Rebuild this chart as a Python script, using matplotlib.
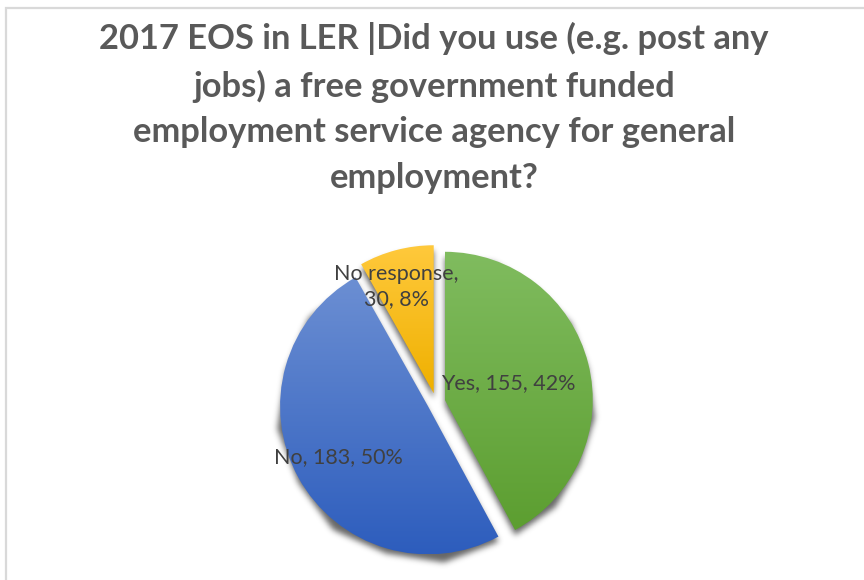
import numpy as np
import matplotlib
matplotlib.use("Agg")
import matplotlib.pyplot as plt
from matplotlib.colors import LinearSegmentedColormap
from matplotlib.patches import Rectangle

# Survey responses
categories = ["Yes", "No", "No response"]
counts = [155, 183, 30]
title_lines = [
    "2017 EOS in LER |Did you use (e.g. post any",
    "jobs) a free government funded",
    "employment service agency for general",
    "employment?",
]

# Gradient colour stops per slice (top -> bottom)
grad_colors = [("#80BC5F", "#5C9E30"), ("#6C8FD3", "#2D5DBD"), ("#FFC93C", "#EFB000")]

W, H = 864, 580
fig = plt.figure(figsize=(W / 100, H / 100), dpi=100)
fig.patch.set_facecolor("white")

# light frame around the chart area
fig.add_artist(Rectangle((6 / W, -0.05), 1.1, (H - 8) / H + 0.05, transform=fig.transFigure,
                         fill=False, edgecolor="#D9D9D9", linewidth=1.6))

cx, cy, R = 436, 402, 148  # pie centre / radius in pixels
lim = 1.2
ax_w = 2 * lim * R
ax = fig.add_axes([(cx - ax_w / 2) / W, (H - cy - ax_w / 2) / H, ax_w / W, ax_w / H])
ax.set_xlim(-lim, lim)
ax.set_ylim(-lim, lim)
ax.set_aspect("equal")
ax.axis("off")

total = sum(counts)
explode = [0.061] * len(counts)
wedges, _ = ax.pie(counts, explode=explode, startangle=90, counterclock=False,
                   radius=1.0, wedgeprops=dict(linewidth=0))

# soft drop shadow beneath the slices
n = 480
g = np.linspace(-lim, lim, n)
X, Y = np.meshgrid(g, g[::-1])
mask = np.zeros_like(X)
shift = 0.035
pts = np.column_stack([X.ravel(), (Y + shift).ravel()])
for w in wedges:
    tp = w.get_patch_transform().transform_path(w.get_path())
    mask = np.maximum(mask, tp.contains_points(pts).reshape(X.shape).astype(float))
sigma = 4.0
k = np.arange(-14, 15)
kern = np.exp(-k**2 / (2 * sigma**2))
kern /= kern.sum()
blur = np.apply_along_axis(lambda r: np.convolve(r, kern, mode="same"), 1, mask)
blur = np.apply_along_axis(lambda c: np.convolve(c, kern, mode="same"), 0, blur)
shadow = np.zeros((n, n, 4))
shadow[..., 3] = blur * 0.6
ax.imshow(shadow, extent=(-lim, lim, -lim, lim), zorder=0.5, interpolation="bilinear")

# vertical gradient fill for each wedge
for w, (c1, c2) in zip(wedges, grad_colors):
    w.set_facecolor("none")
    tp = w.get_patch_transform().transform_path(w.get_path())
    ext = tp.get_extents()
    cmap = LinearSegmentedColormap.from_list("g", [c2, c1])
    grad = np.linspace(0, 1, 256).reshape(-1, 1)
    im = ax.imshow(grad, extent=(ext.x0, ext.x1, ext.y0, ext.y1), origin="lower",
                   cmap=cmap, aspect="auto", zorder=1, interpolation="bilinear")
    im.set_clip_path(w)
ax.set_xlim(-lim, lim)
ax.set_ylim(-lim, lim)

# data labels: "Category, count, pct%"
label_pos = [(0.49, 0.13), (-0.66, -0.37), (-0.27, 0.78)]
for cat, val, (lx, ly) in zip(categories, counts, label_pos):
    pct = round(100 * val / total)
    if cat == "No response":
        txt = f"{cat},\n{val}, {pct}%"
    else:
        txt = f"{cat}, {val}, {pct}%"
    ax.text(lx, ly, txt, ha="center", va="center", fontsize=15.5, color="#404040",
            family="Lato", linespacing=1.32, zorder=3)

fig.text(434 / W, 1 - 108 / H, "\n".join(title_lines), ha="center", va="center",
         fontsize=24.8, fontweight="bold", color="#595959", family="Lato",
         linespacing=1.53)

fig.savefig("out.png", dpi=100, facecolor="white")
